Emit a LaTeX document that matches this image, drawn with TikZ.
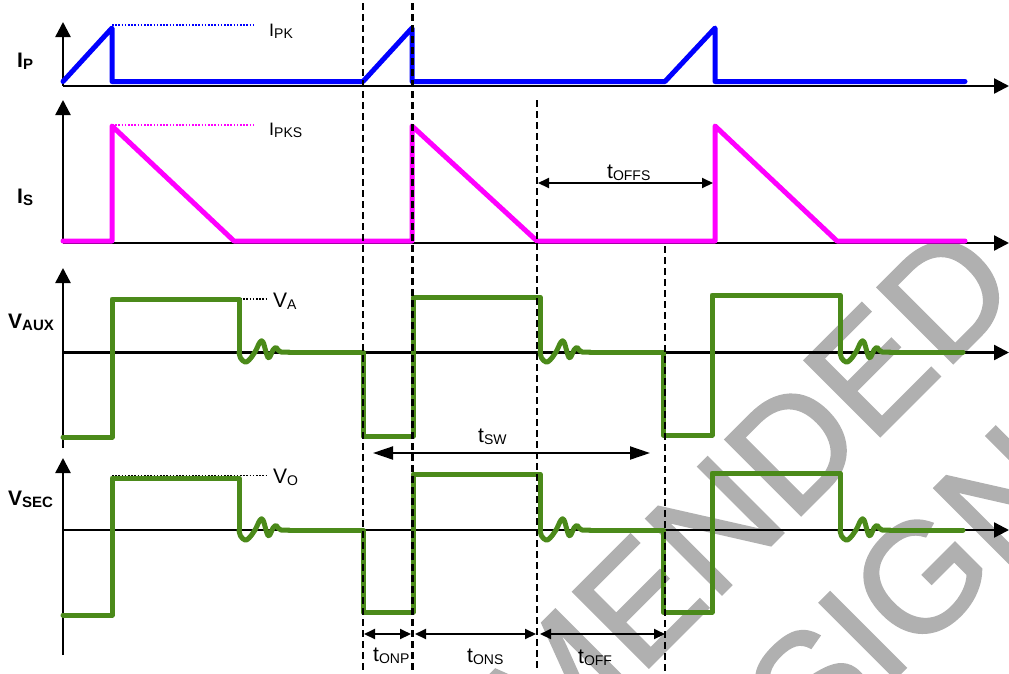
\documentclass[tikz,border=0pt]{standalone}
\usepackage{fontspec}
\setmainfont{Liberation Sans}
\newfontfamily\wmfont[FakeBold=1.6]{Liberation Sans}
\usetikzlibrary{arrows.meta}
\definecolor{tblue}{RGB}{0,0,255}
\definecolor{tpink}{RGB}{255,0,255}
\definecolor{tgreen}{RGB}{75,138,26}
\definecolor{wmgray}{RGB}{176,176,176}
\newcommand\sbr[1]{\raisebox{-2.5pt}{\fontsize{14}{14}\selectfont #1}}
\newcommand\sbb[1]{\raisebox{-2.5pt}{\fontsize{15}{15}\selectfont #1}}
\newcommand\sbi[1]{\raisebox{-2pt}{\fontsize{14}{14}\selectfont #1}}
\begin{document}
\begin{tikzpicture}[x=1pt,y=-1pt,
  axis/.style={line width=2.4pt,-{Triangle[length=15pt,width=15pt]}},
  trace/.style={line width=5pt,line join=round,line cap=round},
  guide/.style={line width=2.6pt,dash pattern=on 7pt off 4pt},
  dotline/.style={line width=1.8pt,dash pattern=on 1.6pt off 1.6pt},
  dim/.style={line width=2pt,{Triangle[length=11pt,width=10pt]}-{Triangle[length=11pt,width=10pt]}},
  dimlong/.style={line width=2pt,{Triangle[length=20pt,width=13pt]}-{Triangle[length=20pt,width=13pt]}},
  lab/.style={font=\fontsize{21}{21}\selectfont,inner sep=0pt,anchor=base west},
  ilab/.style={font=\fontsize{18}{18}\selectfont,inner sep=0pt,anchor=base west},
  blab/.style={font=\bfseries\fontsize{21}{21}\selectfont,inner sep=0pt,anchor=base west},
  wmark/.style={font=\wmfont\fontsize{155}{155}\selectfont,text=wmgray,inner sep=0pt,rotate=45,anchor=base east},
  ring/.pic={\draw[trace,tgreen] plot[smooth,tension=0.6] coordinates {(0,0) (1.5,6) (6,10) (10,8) (16,0) (21,-10) (24,-10) (27,0) (29,5.5) (31,4.5) (34,-2) (37,-4.5) (39,-2) (42,0) (50,0)};}
]
\useasboundingbox (0,0) rectangle (1009,673);
% watermark
\begin{scope}
\clip (0,0) rectangle (1009,673);
\node[wmark] (wm1) at (1023.7,292.3) {NOT RECOMMENDED};
\node[wmark] (wm2) at (1080.3,493.1) {FOR NEW DESIGN};
\end{scope}
% dotted level lines
\draw[dotline,tblue] (112,25) -- (253,25);
\draw[dotline,tpink] (112,125) -- (253,125);
\draw[dotline,black] (240,299) -- (266,299);
\draw[dotline,black] (112,475.5) -- (266,475.5);
% axes
\coordinate (o1) at (63,86);
\coordinate (o2) at (63,243);
\coordinate (o3) at (63,352.5);
\coordinate (o4) at (63,530);
\draw[axis] (o1) -- (63,22);
\draw[axis] (o1) -- (1009,86);
\draw[axis] (o2) -- (63,100);
\draw[axis] (o2) -- (1009,243);
\draw[axis] (63,448) -- (63,268);
\draw[axis] (o3) -- (1009,352.5);
\draw[axis] (63,655) -- (63,458);
\draw[axis] (o4) -- (1009,530);
% primary current
\draw[trace,tblue] (63,81.5) -- (112,28) -- (112,81.5) -- (363,81.5) -- (412,28) -- (412,81.5)
  -- (665,81.5) -- (715,28) -- (715,81.5) -- (965,81.5);
% secondary current
\draw[trace,tpink] (63,241) -- (112,241) -- (112,126) -- (234,241) -- (412,241) -- (412,126)
  -- (537,241) -- (715,241) -- (715,126) -- (837,241) -- (965,241);
% V_AUX
\draw[trace,tgreen] (63,437) -- (112,437) -- (112,299) -- (239,299) -- (239,352);
\pic at (239,352) {ring};
\draw[trace,tgreen] (289,352) -- (363,352) -- (363,436) -- (413,436) -- (413,297) -- (540,297) -- (540,352);
\pic at (540,352) {ring};
\draw[trace,tgreen] (590,352) -- (663,352) -- (663,435) -- (712,435) -- (712,295) -- (840,295) -- (840,352);
\pic at (840,352) {ring};
\draw[trace,tgreen] (890,352) -- (963,352);
% V_SEC
\draw[trace,tgreen] (63,615) -- (112,615) -- (112,478) -- (239,478) -- (239,530);
\pic at (239,530) {ring};
\draw[trace,tgreen] (289,530) -- (363,530) -- (363,612) -- (413,612) -- (413,474) -- (540,474) -- (540,530);
\pic at (540,530) {ring};
\draw[trace,tgreen] (590,530) -- (663,530) -- (663,612) -- (712,612) -- (712,473) -- (840,473) -- (840,530);
\pic at (840,530) {ring};
\draw[trace,tgreen] (890,530) -- (963,530);
% dashed markers
\draw[guide] (363,3) -- (363,671);
\draw[guide] (412.5,3) -- (412.5,671);
\draw[guide] (537,100) -- (537,671);
\draw[guide] (665,246) -- (665,671);
% dimension arrows
\coordinate (a1) at (538,183); \coordinate (a2) at (713,183);
\draw[dim] (a1) -- (a2);
\coordinate (b1) at (373,453); \coordinate (b2) at (650,453);
\draw[dimlong] (b1) -- (b2);
\coordinate (c1) at (364,634); \coordinate (c2) at (411,634);
\coordinate (c3) at (415,634); \coordinate (c4) at (536,634);
\coordinate (c5) at (540,634); \coordinate (c6) at (665,634);
\draw[dim] (c1) -- (c2);
\draw[dim] (c3) -- (c4);
\draw[dim] (c5) -- (c6);
% labels
\node[blab] (lip) at (17,67) {I\sbb{P}};
\node[blab] (lis) at (17,203) {I\sbb{S}};
\node[blab] (lva) at (8,328) {V\sbb{AUX}};
\node[blab] (lvs) at (8,505) {V\sbb{SEC}};
\node[ilab] (lpk) at (269,36) {I\sbi{PK}};
\node[ilab] (lpks) at (269,135) {I\sbi{PKS}};
\node[lab] (lvA) at (273,307) {V\sbr{A}};
\node[lab] (lvO) at (273,483) {V\sbr{O}};
\node[lab] (ltoffs) at (607,178) {t\sbr{OFFS}};
\node[lab] (ltsw) at (478,442) {t\sbr{SW}};
\node[lab] (ltonp) at (373,661) {t\sbr{ONP}};
\node[lab] (ltons) at (467,662) {t\sbr{ONS}};
\node[lab] (ltoff) at (578,663) {t\sbr{OFF}};
\end{tikzpicture}
\end{document}
